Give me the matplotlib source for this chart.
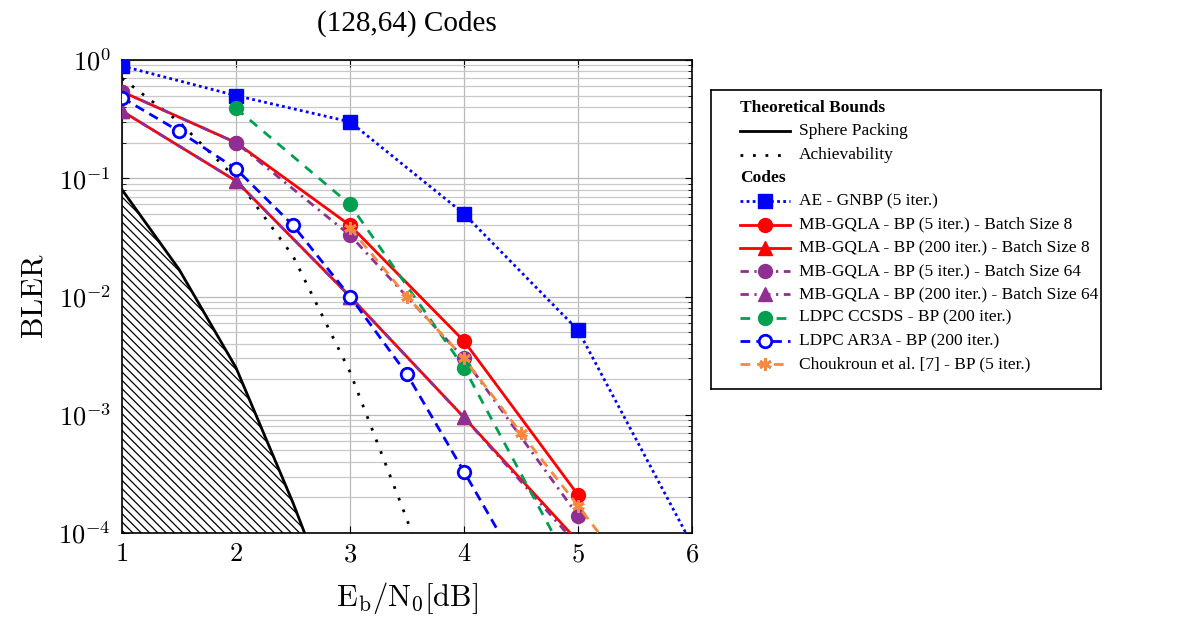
import numpy as np
import matplotlib
matplotlib.use('agg')
import matplotlib.pyplot as plt
from matplotlib.ticker import FixedLocator, FuncFormatter, LogLocator, NullFormatter

plt.rcParams['font.family'] = ['Liberation Serif', 'DejaVu Serif']
plt.rcParams['mathtext.fontset'] = 'cm'
plt.rcParams['hatch.linewidth'] = 0.9

# ---- data ----
snr = [1, 2, 3, 4, 5]

sphere_x = [1, 1.5, 2, 2.5, 3]
sphere_bler = [0.08, 0.017, 0.0025, 1.8e-4, 1e-5]

achiev_x = [1, 1.5, 2, 2.5, 3, 3.5, 4]
achiev_bler = [0.7, 0.3, 0.1, 0.022, 0.0023, 1.3e-4, 5e-6]

ae_x = [1, 2, 3, 4, 5, 6]
ae_bler = [0.89, 0.50, 0.30, 0.050, 0.0052, 8e-5]

mb5_b8 = [0.54, 0.20, 0.040, 0.0042, 2.1e-4]
mb200_b8 = [0.37, 0.095, 0.010, 9.5e-4, 8.5e-5]
mb5_b64 = [0.54, 0.20, 0.033, 0.0030, 1.4e-4]
mb200_b64 = [0.37, 0.095, 0.010, 9.5e-4, 7.8e-5]

ccsds_x = [2, 3, 4, 5]
ccsds_bler = [0.39, 0.060, 0.0025, 4e-5]

ar3a_x = [1, 1.5, 2, 2.5, 3, 3.5, 4, 4.5]
ar3a_bler = [0.48, 0.25, 0.12, 0.040, 0.010, 0.0022, 3.3e-4, 4.8e-5]

chouk_x = [3, 3.5, 4, 4.5, 5, 5.5]
chouk_bler = [0.038, 0.010, 0.0030, 7e-4, 1.7e-4, 4e-5]

# colours
blue = '#0000ff'
red = '#ff0000'
purple = '#8f2f91'
green = '#00a050'
orange = '#f5893d'

# series: (label, x, y, style kwargs)
series = [
    ('AE - GNBP (5 iter.)', ae_x, ae_bler,
     dict(color=blue, ls=(0, (1, 1.2)), lw=2, marker='s', ms=10)),
    ('MB-GQLA - BP (5 iter.) - Batch Size 8', snr, mb5_b8,
     dict(color=red, ls='-', lw=2, marker='o', ms=10)),
    ('MB-GQLA - BP (200 iter.) - Batch Size 8', snr, mb200_b8,
     dict(color=red, ls='-', lw=2, marker='^', ms=10)),
    ('MB-GQLA - BP (5 iter.) - Batch Size 64', snr, mb5_b64,
     dict(color=purple, ls=(0, (3, 2, 0.8, 2)), lw=2, marker='o', ms=10)),
    ('MB-GQLA - BP (200 iter.) - Batch Size 64', snr, mb200_b64,
     dict(color=purple, ls=(0, (3, 2, 0.8, 2)), lw=2, marker='^', ms=10)),
    ('LDPC CCSDS - BP (200 iter.)', ccsds_x, ccsds_bler,
     dict(color=green, ls=(0, (3.5, 3)), lw=2, marker='o', ms=10)),
    ('LDPC AR3A - BP (200 iter.)', ar3a_x, ar3a_bler,
     dict(color=blue, ls=(0, (3.5, 2.2)), lw=2, marker='o', ms=9,
          mfc='white', mew=2)),
    ('Choukroun et al. [7] - BP (5 iter.)', chouk_x, chouk_bler,
     dict(color=orange, ls=(0, (3.5, 2.5)), lw=2, marker=(6, 2, 0), ms=9, mew=2)),
]

fig = plt.figure(figsize=(11.91, 6.21), dpi=100)
ax = fig.add_axes([122 / 1191, 1 - 533 / 621, 570 / 1191, 473 / 621])

# theoretical bounds
ax.fill_between(sphere_x, sphere_bler, 1e-5, facecolor='white', edgecolor='black',
                hatch='\\\\\\\\', lw=0, zorder=1)
ax.plot(sphere_x, sphere_bler, color='black', lw=2, zorder=2)
ax.plot(achiev_x, achiev_bler, color='black', ls=(0, (1, 3.5)), lw=2, zorder=2)

for label, x, y, kw in series:
    ax.plot(x, y, zorder=3, **kw)

ax.set_yscale('log')
ax.set_xlim(1, 6)
ax.set_ylim(1e-4, 1)
ax.xaxis.set_major_locator(FixedLocator([1, 2, 3, 4, 5, 6]))
ax.xaxis.set_major_formatter(FuncFormatter(lambda v, p: r'$%d$' % v))
ax.yaxis.set_major_locator(FixedLocator([1e-4, 1e-3, 1e-2, 1e-1, 1]))
ax.yaxis.set_major_formatter(FuncFormatter(lambda v, p: r'$10^{%d}$' % round(np.log10(v))))
ax.yaxis.set_minor_locator(LogLocator(base=10, subs=np.arange(2, 10)))
ax.yaxis.set_minor_formatter(NullFormatter())
ax.tick_params(which='both', direction='in', top=True, right=True, labelsize=19)
ax.tick_params(which='major', length=5, pad=8)
ax.tick_params(which='minor', length=3)
ax.grid(True, which='major', color='#b8b8b8', lw=0.9)
ax.grid(True, which='minor', axis='y', color='#c8c8c8', lw=0.9)
ax.set_axisbelow(True)
for s in ax.spines.values():
    s.set_linewidth(1.2)

ax.set_xlabel(r'$\mathrm{E_b/N_0[dB]}$', fontsize=22, labelpad=10)
ax.set_ylabel(r'$\mathrm{BLER}$', fontsize=22, labelpad=6)
ax.set_title('(128,64) Codes', fontsize=21, pad=21)

# ---- legend drawn in its own box ----
lg = fig.add_axes([711 / 1191, 1 - 389 / 621, 390 / 1191, 299 / 621])
lg.set_xlim(0, 390)
lg.set_ylim(299, 0)
lg.set_xticks([])
lg.set_yticks([])
for s in lg.spines.values():
    s.set_linewidth(1.2)

row_h = 23.3
y0 = 18
hx0, hx1, tx = 29, 79, 88
fs = 12.5

lg.text(hx0, y0, 'Theoretical Bounds', fontsize=fs, fontweight='bold', va='center')
lg.plot([hx0, hx1], [y0 + row_h] * 2, color='black', lw=2)
lg.text(tx, y0 + row_h, 'Sphere Packing', fontsize=fs, va='center')
lg.plot([hx0, hx1], [y0 + 2 * row_h] * 2, color='black', ls=(0, (1, 3.5)), lw=2)
lg.text(tx, y0 + 2 * row_h, 'Achievability', fontsize=fs, va='center')
lg.text(hx0, y0 + 3 * row_h, 'Codes', fontsize=fs, fontweight='bold', va='center')
for i, (label, x, y, kw) in enumerate(series):
    yy = y0 + (4 + i) * row_h
    lg.plot([hx0, (hx0 + hx1) / 2, hx1], [yy] * 3, markevery=[1], **kw)
    lg.text(tx, yy, label, fontsize=fs, va='center')

fig.savefig('out.png', dpi=100)
